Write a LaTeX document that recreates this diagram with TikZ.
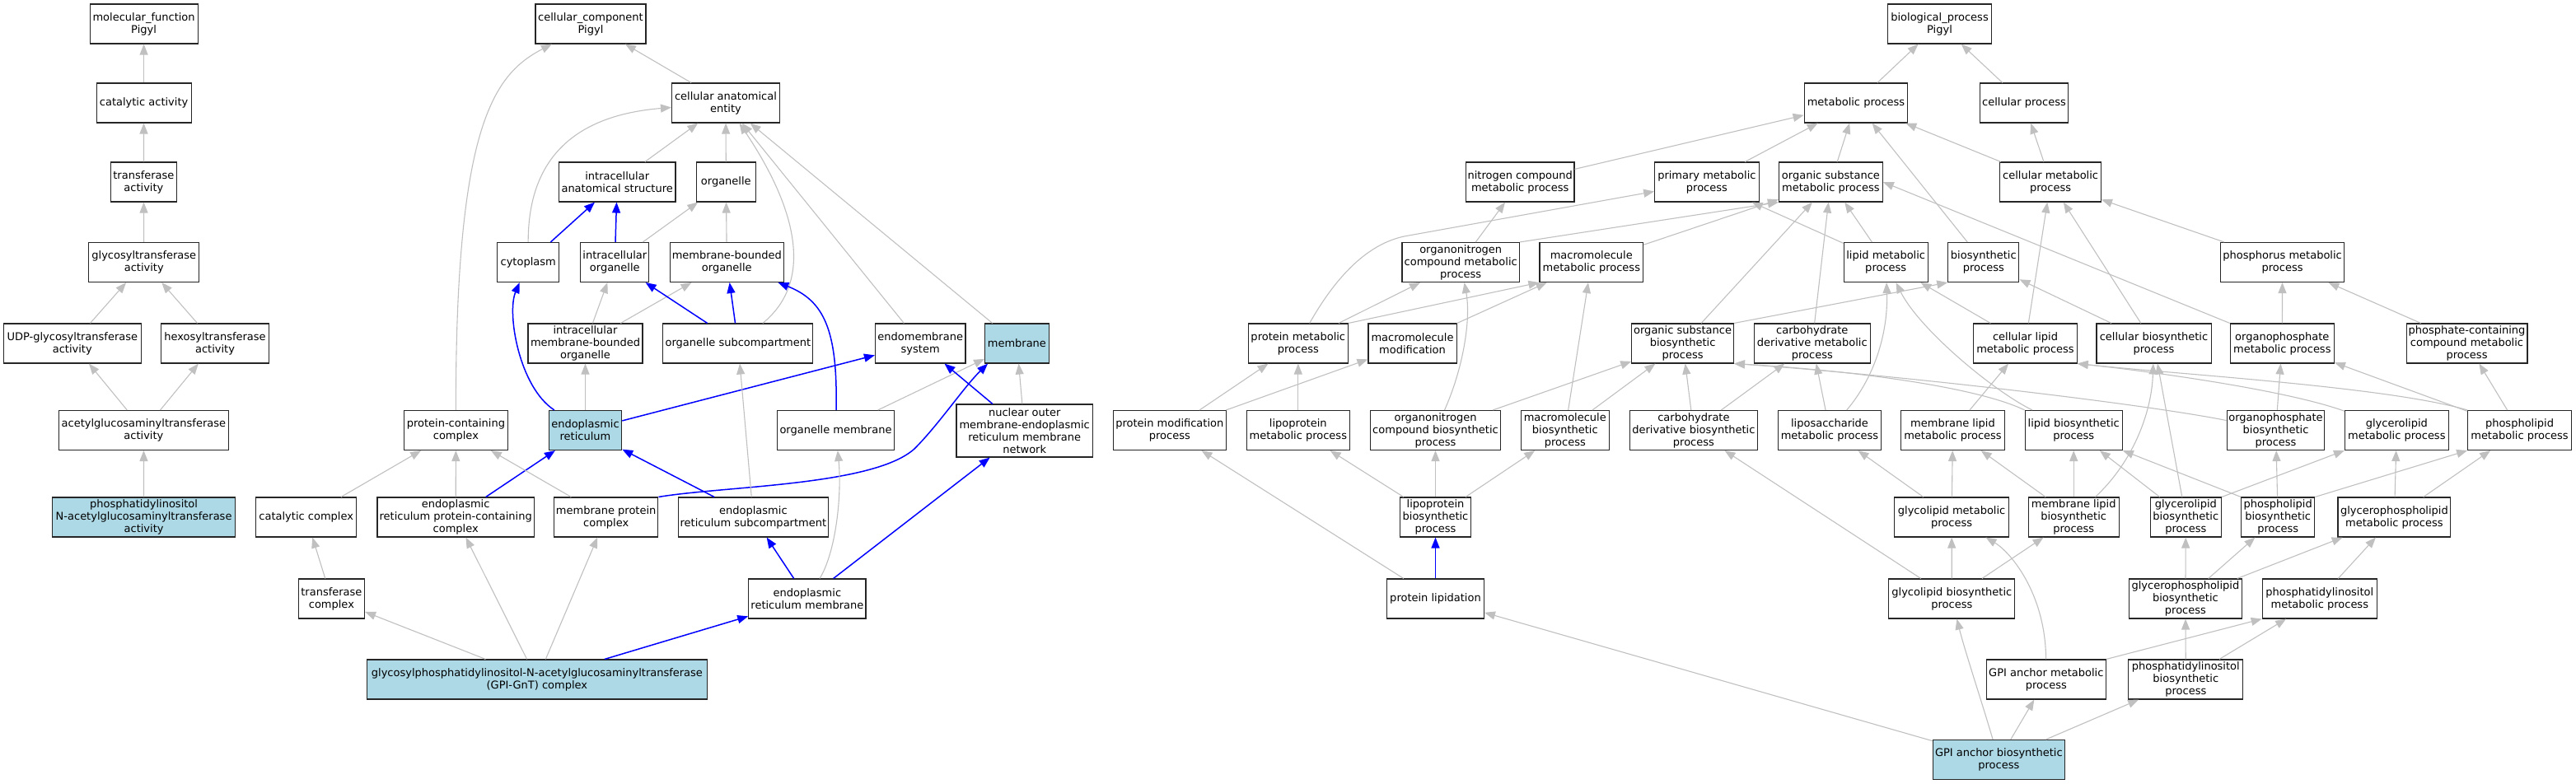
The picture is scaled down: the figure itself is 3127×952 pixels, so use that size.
\documentclass[tikz,border=0pt]{standalone}
\usepackage{fontspec}
\setmainfont{DejaVu Sans}
\usetikzlibrary{arrows.meta}
\definecolor{isagray}{RGB}{192,192,192}
\definecolor{hitblue}{RGB}{173,216,230}

\begin{document}
\begin{tikzpicture}[x=1pt,y=-1pt,
  term/.style={draw=black!85,line width=1.1pt,fill=white,align=center,inner sep=1pt,minimum height=48pt,font=\fontsize{13}{15}\selectfont},
  hit/.style={term,fill=hitblue},
  isa/.style={->,draw=isagray,line width=1.1pt},
  rel/.style={->,draw=blue,line width=1.5pt},
  >={Triangle[length=13pt,width=10pt]}]
	\useasboundingbox (0,0) rectangle (3127,952);

	\node[term,minimum width=131] (mf) at (174.6,29) {molecular\_function\\Pigyl};
	\node[term,minimum width=115] (cat) at (174.6,125) {catalytic activity};
	\node[term,minimum width=80] (tra) at (174.4,221) {transferase\\activity};
	\node[term,minimum width=134] (gly) at (174.8,318.5) {glycosyltransferase\\activity};
	\node[term,minimum width=167] (udp) at (87.8,417) {UDP-glycosyltransferase\\activity};
	\node[term,minimum width=131] (hex) at (261,417) {hexosyltransferase\\activity};
	\node[term,minimum width=206] (acg) at (174.4,522.5) {acetylglucosaminyltransferase\\activity};
	\node[hit,minimum width=222] (pig) at (174.6,628) {phosphatidylinositol\\N-acetylglucosaminyltransferase\\activity};

	\node[term,minimum width=134] (cc) at (717,29) {cellular\_component\\Pigyl};
	\node[term,minimum width=131] (cae) at (881,125) {cellular anatomical\\entity};
	\node[term,minimum width=141.5] (ias) at (749.2,221) {intracellular\\anatomical structure};
	\node[term,minimum width=72] (org) at (881.3,221) {organelle};
	\node[term,minimum width=75] (cyto) at (641.2,318.5) {cytoplasm};
	\node[term,minimum width=83] (io) at (746.3,318.5) {intracellular\\organelle};
	\node[term,minimum width=138.5] (mbo) at (882.3,318.5) {membrane-bounded\\organelle};
	\node[term,minimum width=139] (imbo) at (710.5,417) {intracellular\\membrane-bounded\\organelle};
	\node[term,minimum width=182] (osc) at (895.9,417) {organelle subcompartment};
	\node[term,minimum width=109.5] (ems) at (1117.2,417) {endomembrane\\system};
	\node[hit,minimum width=77.5] (mem) at (1234.4,417) {membrane};
	\node[term,minimum width=126] (pcc) at (553.4,522.5) {protein-containing\\complex};
	\node[hit,minimum width=88.5] (er) at (710.5,522.5) {endoplasmic\\reticulum};
	\node[term,minimum width=142.5] (om) at (1014.5,522.5) {organelle membrane};
	\node[term,minimum width=165.5,minimum height=64] (nom) at (1243.7,523) {nuclear outer\\membrane-endoplasmic\\reticulum membrane\\network};
	\node[term,minimum width=122.3] (catc) at (371.7,628) {catalytic complex};
	\node[term,minimum width=190.4] (erpc) at (553.2,628) {endoplasmic\\reticulum protein-containing\\complex};
	\node[term,minimum width=126.4] (mpc) at (735.7,628) {membrane protein\\complex};
	\node[term,minimum width=182] (ersc) at (914.4,628) {endoplasmic\\reticulum subcompartment};
	\node[term,minimum width=80.2] (trc) at (402.4,727) {transferase\\complex};
	\node[term,minimum width=142.2] (erm) at (979.9,727) {endoplasmic\\reticulum membrane};
	\node[hit,minimum width=413.3] (gnt) at (651.9,825) {glycosylphosphatidylinositol-N-acetylglucosaminyltransferase\\(GPI-GnT) complex};

	\node[term,minimum width=126] (bp) at (2354.5,29) {biological\_process\\Pigyl};
	\node[term,minimum width=125.7] (met) at (2253,125) {metabolic process};
	\node[term,minimum width=107.5] (cp) at (2457,125) {cellular process};
	\node[term,minimum width=131.5] (ncm) at (1845.2,221) {nitrogen compound\\metabolic process};
	\node[term,minimum width=126.4] (pm) at (2071.9,221) {primary metabolic\\process};
	\node[term,minimum width=125.7] (osm) at (2222.4,221) {organic substance\\metabolic process};
	\node[term,minimum width=122.6] (cm) at (2489.1,221) {cellular metabolic\\process};
	\node[term,minimum width=142.5] (onm) at (1773.2,318.5) {organonitrogen\\compound metabolic\\process};
	\node[term,minimum width=125.7] (mmm) at (1931.8,318.5) {macromolecule\\metabolic process};
	\node[term,minimum width=102.2] (lm) at (2289.2,318.5) {lipid metabolic\\process};
	\node[term,minimum width=86.1] (bs) at (2407.8,318.5) {biosynthetic\\process};
	\node[term,minimum width=150.2] (phm) at (2770.6,318.5) {phosphorus metabolic\\process};
	\node[term,minimum width=121.2] (prm) at (1575.8,417) {protein metabolic\\process};
	\node[term,minimum width=107.1] (mmod) at (1714.5,417) {macromolecule\\modification};
	\node[term,minimum width=123.6] (osb) at (2042.6,417) {organic substance\\biosynthetic\\process};
	\node[term,minimum width=141.2] (cdm) at (2199.8,417) {carbohydrate\\derivative metabolic\\process};
	\node[term,minimum width=125.3] (clm) at (2458.5,417) {cellular lipid\\metabolic process};
	\node[term,minimum width=139.1] (cb) at (2614.5,417) {cellular biosynthetic\\process};
	\node[term,minimum width=126.1] (opm) at (2770.3,417) {organophosphate\\metabolic process};
	\node[term,minimum width=146.9] (pcm) at (2994.5,417) {phosphate-containing\\compound metabolic\\process};
	\node[term,minimum width=137] (pmod) at (1419.8,522.5) {protein modification\\process};
	\node[term,minimum width=125.4] (lpm) at (1575.8,522.5) {lipoprotein\\metabolic process};
	\node[term,minimum width=158.4] (onb) at (1742.5,522.5) {organonitrogen\\compound biosynthetic\\process};
	\node[term,minimum width=107.1] (mmb) at (1899.8,522.5) {macromolecule\\biosynthetic\\process};
	\node[term,minimum width=155.7] (cdb) at (2055.9,522.5) {carbohydrate\\derivative biosynthetic\\process};
	\node[term,minimum width=125.7] (lsm) at (2221,522.5) {liposaccharide\\metabolic process};
	\node[term,minimum width=125.7] (mlm) at (2370.5,522.5) {membrane lipid\\metabolic process};
	\node[term,minimum width=118.1] (lb) at (2517.2,522.5) {lipid biosynthetic\\process};
	\node[term,minimum width=118.7] (opb) at (2762.5,522.5) {organophosphate\\biosynthetic\\process};
	\node[term,minimum width=125.7] (glm) at (2909.3,522.5) {glycerolipid\\metabolic process};
	\node[term,minimum width=125.7] (plm) at (3058.5,522.5) {phospholipid\\metabolic process};
	\node[term,minimum width=86.1] (lpb) at (1742.5,628) {lipoprotein\\biosynthetic\\process};
	\node[term,minimum width=138.8] (gym) at (2369.1,628) {glycolipid metabolic\\process};
	\node[term,minimum width=109.9] (mlb) at (2517.2,628) {membrane lipid\\biosynthetic\\process};
	\node[term,minimum width=86.4] (glb) at (2653.3,628) {glycerolipid\\biosynthetic\\process};
	\node[term,minimum width=89] (plb) at (2765.2,628) {phospholipid\\biosynthetic\\process};
	\node[term,minimum width=136.8] (gpm) at (2906.4,628) {glycerophospholipid\\metabolic process};
	\node[term,minimum width=117.8] (lip) at (1742.5,727) {protein lipidation};
	\node[term,minimum width=152.9] (gyb) at (2369.3,727) {glycolipid biosynthetic\\process};
	\node[term,minimum width=136.8] (gpb) at (2652.9,727) {glycerophospholipid\\biosynthetic\\process};
	\node[term,minimum width=139.2] (pim) at (2815.8,727) {phosphatidylinositol\\metabolic process};
	\node[term,minimum width=144.9] (gam) at (2483.8,825) {GPI anchor metabolic\\process};
	\node[term,minimum width=138.9] (pib) at (2653.3,825) {phosphatidylinositol\\biosynthetic\\process};
	\node[hit,minimum width=160.1] (gab) at (2426.3,922.5) {GPI anchor biosynthetic\\process};

	\draw[isa] (cat) to (mf);
	\draw[isa] (tra) to (cat);
	\draw[isa] (gly) to (tra);
	\draw[isa] (udp) to (gly);
	\draw[isa] (hex) to (gly);
	\draw[isa] (acg) to (udp);
	\draw[isa] (acg) to (hex);
	\draw[isa] (pig) to (acg);

	\draw[isa] (cae) to (cc);
	\draw[isa] (pcc) .. controls (553,150) and (600,90) .. (cc);
	\draw[isa] (ias) to (cae);
	\draw[isa] (org) to (cae);
	\draw[isa] (cyto) .. controls (641,190) and (700,140) .. (cae);
	\draw[isa] (osc) .. controls (990,340) and (965,250) .. (cae);
	\draw[isa] (ems) to (cae);
	\draw[isa] (mem) to (cae);
	\draw[rel] (cyto) to (ias);
	\draw[rel] (io) to (ias);
	\draw[isa] (io) to (org);
	\draw[isa] (mbo) to (org);
	\draw[isa] (imbo) to (io);
	\draw[isa] (imbo) to (mbo);
	\draw[rel] (osc) to (io);
	\draw[rel] (osc) to (mbo);
	\draw[isa] (er) to (imbo);
	\draw[rel] (er) .. controls (630,470) and (615,380) .. (cyto);
	\draw[rel] (er) to (ems);
	\draw[rel] (om) .. controls (1017,400) and (1000,365) .. (mbo);
	\draw[isa] (om) to (mem);
	\draw[rel] (nom) to (ems);
	\draw[isa] (nom) to (mem);
	\draw[isa] (erpc) to (pcc);
	\draw[rel] (erpc) to (er);
	\draw[isa] (mpc) to (pcc);
	\draw[rel] (mpc.north east) .. controls (880,590) and (1060,590) .. (1110,545) .. controls (1140,515) and (1170,470) .. ([xshift=4pt]mem.south west);
	\draw[rel] (ersc) to (er);
	\draw[isa] (ersc) to (osc);
	\draw[isa] (catc) to (pcc);
	\draw[isa] (trc) to (catc);
	\draw[rel] (erm) to (ersc);
	\draw[isa] (erm) .. controls (1015,670) and (1022,600) .. (om);
	\draw[rel] (erm) to (nom);
	\draw[isa] (gnt) to (trc);
	\draw[isa] (gnt) to (erpc);
	\draw[isa] (gnt) to (mpc);
	\draw[rel] (gnt) to (erm);

	\draw[isa] (met) to (bp);
	\draw[isa] (cp) to (bp);
	\draw[isa] (ncm) to (met);
	\draw[isa] (pm) to (met);
	\draw[isa] (osm) to (met);
	\draw[isa] (bs) to (met);
	\draw[isa] (cm) to (met);
	\draw[isa] (cm) to (cp);
	\draw[isa] (onm) to (ncm);
	\draw[isa] (onm.north east) to (osm.south west);
	\draw[isa] (mmm) to (osm);
	\draw[isa] (lm) to (pm);
	\draw[isa] (lm) to (osm);
	\draw[isa] (phm) to (cm);
	\draw[isa] (prm) to (onm);
	\draw[isa] (prm.north east) to (mmm.south west);
	\draw[isa] (prm) .. controls (1625,330) and (1665,293) .. (1710,286) -- (pm);
	\draw[isa] (mmod) to (mmm);
	\draw[isa] (osb) to (osm);
	\draw[isa] (osb.north east) to (bs.south west);
	\draw[isa] (cdm) to (osm);
	\draw[isa] (clm) to (lm);
	\draw[isa] (clm) to (cm);
	\draw[isa] (cb) to (cm);
	\draw[isa] (cb) to (bs);
	\draw[isa] (opm) to (phm);
	\draw[isa] (opm.north west) to (osm.east);
	\draw[isa] (pcm) to (phm);
	\draw[isa] (pmod) to (prm);
	\draw[isa] (pmod) to (mmod);
	\draw[isa] (lpm) to (prm);
	\draw[isa] (onb) .. controls (1775,450) and (1786,390) .. (onm);
	\draw[isa] (onb) to (osb);
	\draw[isa] (mmb) to (mmm);
	\draw[isa] (mmb) to (osb);
	\draw[isa] (cdb) to (osb);
	\draw[isa] (cdb) to (cdm);
	\draw[isa] (lsm) to (cdm);
	\draw[isa] (lsm) .. controls (2278,455) and (2292,400) .. (lm);
	\draw[isa] (mlm) to (clm);
	\draw[isa] (lb) .. controls (2420,475) and (2330,400) .. (lm);
	\draw[isa] (lb.north west) .. controls (2400,470) and (2250,450) .. (osb.south east);
	\draw[isa] (opb) to (opm);
	\draw[isa] (opb) .. controls (2600,490) and (2300,455) .. (osb.south east);
	\draw[isa] (glm) .. controls (2780,475) and (2620,452) .. (clm.south east);
	\draw[isa] (plm.north west) .. controls (2900,470) and (2650,455) .. (clm.south east);
	\draw[isa] (plm) to (opm);
	\draw[isa] (plm) to (pcm);
	\draw[isa] (lpb) to (lpm);
	\draw[isa] (lpb) to (onb);
	\draw[isa] (lpb) to (mmb);
	\draw[isa] (gym) to (lsm);
	\draw[isa] (gym) to (mlm);
	\draw[isa] (mlb) to (mlm);
	\draw[isa] (mlb) to (lb);
	\draw[isa] (mlb) .. controls (2590,560) and (2612,500) .. (cb);
	\draw[isa] (glb) to (lb);
	\draw[isa] (glb) to (cb);
	\draw[isa] (glb.north east) to (glm.south west);
	\draw[isa] (plb) to (opb);
	\draw[isa] (plb.north west) to (lb.south east);
	\draw[isa] (plb.north east) to (plm.south west);
	\draw[isa] (gpm) to (glm);
	\draw[isa] (gpm) to (plm);
	\draw[rel] (lip) to (lpb);
	\draw[isa] (lip) to (pmod);
	\draw[isa] (gyb) to (gym);
	\draw[isa] (gyb) to (mlb);
	\draw[isa] (gyb) to (cdb);
	\draw[isa] (gpb) to (glb);
	\draw[isa] (gpb) to (plb);
	\draw[isa] (gpb) to (gpm);
	\draw[isa] (pim) to (gpm);
	\draw[isa] (gam) .. controls (2483,720) and (2440,670) .. (gym);
	\draw[isa] (gam.north east) to (pim.south west);
	\draw[isa] (pib) to (gpb);
	\draw[isa] (pib) to (pim);
	\draw[isa] (gab) .. controls (2405,850) and (2385,790) .. (gyb);
	\draw[isa] (gab) to (gam);
	\draw[isa] (gab) to (pib);
	\draw[isa] (gab) to (lip);
\end{tikzpicture}
\end{document}
